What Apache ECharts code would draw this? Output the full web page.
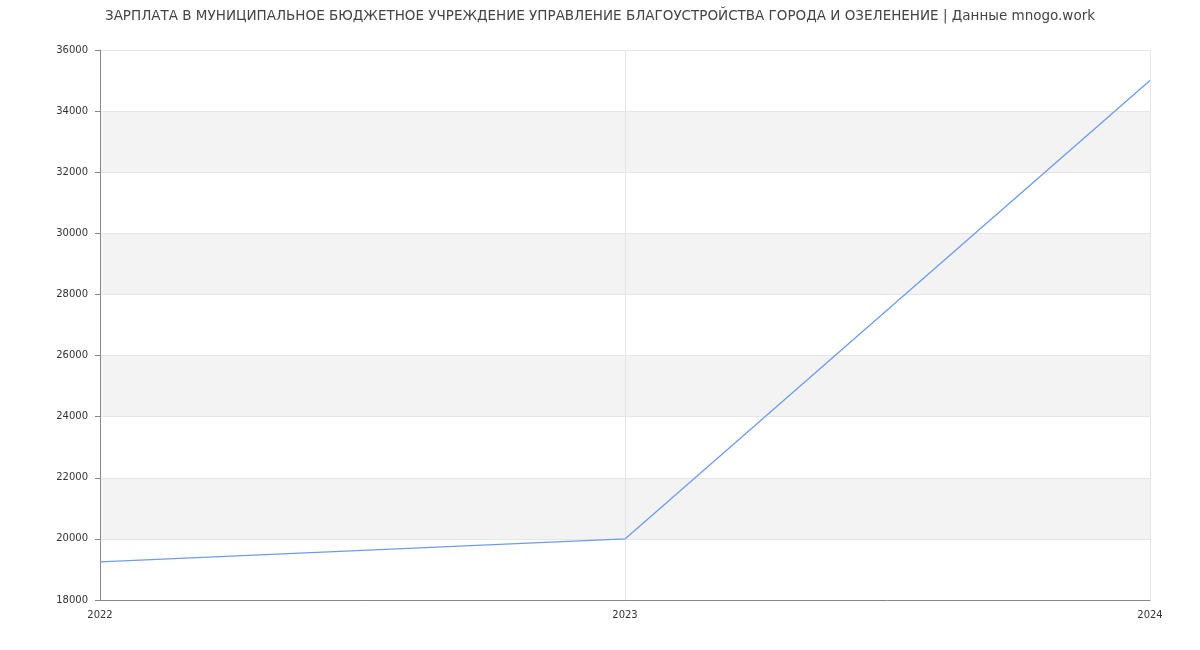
<!DOCTYPE html>
<html>
<head>
<meta charset="utf-8">
<script src="https://cdn.jsdelivr.net/npm/echarts@6/dist/echarts.min.js"></script>
<style>html,body{margin:0;padding:0;background:#fff}#c{width:1200px;height:650px}</style>
</head>
<body>
<div id="c"></div>
<script>
const titleText = 'ЗАРПЛАТА В МУНИЦИПАЛЬНОЕ БЮДЖЕТНОЕ УЧРЕЖДЕНИЕ УПРАВЛЕНИЕ БЛАГОУСТРОЙСТВА ГОРОДА И ОЗЕЛЕНЕНИЕ | Данные mnogo.work';
const years = ['2022', '2023', '2024'];
const salary = [19250, 20000, 35000];
const yMin = 18000, yMax = 36000, yStep = 2000;

const chart = echarts.init(document.getElementById('c'), null, {renderer: 'canvas'});
chart.setOption({
  animation: false,
  title: {
    text: titleText,
    left: 'center',
    top: 4,
    textStyle: {fontFamily: 'DejaVu Sans', fontSize: 13.5, fontWeight: 'normal', color: '#444'}
  },
  grid: {left: 100, right: 50, top: 50, bottom: 50},
  xAxis: {
    type: 'category',
    data: years,
    boundaryGap: false,
    axisLine: {lineStyle: {color: '#888'}},
    axisTick: {show: false},
    axisLabel: {fontFamily: 'DejaVu Sans', fontSize: 10, color: '#333', margin: 10},
    splitLine: {show: true, lineStyle: {color: '#e6e6e6'}}
  },
  yAxis: {
    type: 'value',
    min: yMin, max: yMax, interval: yStep,
    axisLine: {show: true, lineStyle: {color: '#888'}},
    axisTick: {show: true, length: 5, lineStyle: {color: '#888'}},
    axisLabel: {fontFamily: 'DejaVu Sans', fontSize: 10, color: '#333', margin: 12,
      formatter: function (v) { return String(v); }},
    splitLine: {show: true, lineStyle: {color: '#e6e6e6'}},
    splitArea: {show: true, areaStyle: {color: ['#ffffff', '#f3f3f3']}}
  },
  series: [{
    type: 'line',
    data: salary,
    showSymbol: false,
    symbol: 'none',
    lineStyle: {color: '#6d9bf0', width: 1.3}
  }]
});
</script>
</body>
</html>
